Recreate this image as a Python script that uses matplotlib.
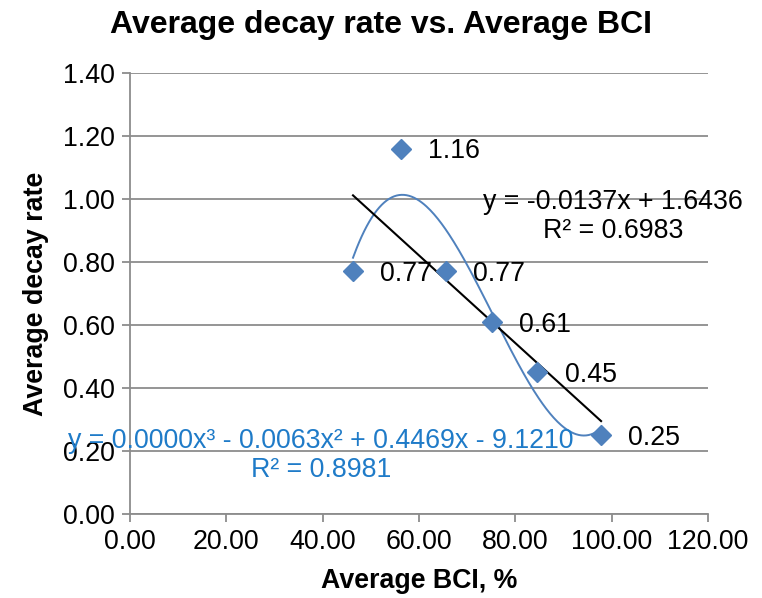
import matplotlib
matplotlib.use("Agg")
import matplotlib.pyplot as plt
import numpy as np

plt.rcParams['font.family'] = ['Liberation Sans', 'DejaVu Sans']

# average BCI (%) and average decay rate per group
bci = [46.3, 56.3, 65.6, 75.2, 84.6, 97.8]
decay = [0.77, 1.16, 0.77, 0.61, 0.45, 0.25]
point_labels = ['0.77', '1.16', '0.77', '0.61', '0.45', '0.25']

x_ticks = [0, 20, 40, 60, 80, 100, 120]
y_ticks = [0.0, 0.2, 0.4, 0.6, 0.8, 1.0, 1.2, 1.4]

linear_eq = 'y = -0.0137x + 1.6436\nR² = 0.6983'
cubic_eq = 'y = 0.0000x³ - 0.0063x² + 0.4469x - 9.1210\nR² = 0.8981'

marker_blue = '#4F81BD'
eq_blue = '#1F7BC8'
grid_grey = '#8C8C8C'
fs = 19.3

fig = plt.figure(figsize=(7.62, 5.98), dpi=100)
ax = fig.add_axes([130 / 762, 1 - 514 / 598, 578 / 762, 441 / 598])

x = np.array(bci)
y = np.array(decay)

# trendlines fitted over the data range
xs = np.linspace(x.min(), x.max(), 200)
lin = np.polyfit(x, y, 1)
cub = np.polyfit(x, y, 3)
ax.plot(xs, np.polyval(cub, xs), color=marker_blue, lw=1.4, zorder=3)
ax.plot(xs, np.polyval(lin, xs), color='black', lw=1.5, zorder=3)

ax.plot(x, y, linestyle='none', marker='D', markersize=10,
        color=marker_blue, zorder=4)

for xi, yi, lab in zip(bci, decay, point_labels):
    ax.annotate(lab, (xi, yi), xytext=(19.5, -2), textcoords='offset points',
                ha='left', va='center', fontsize=fs, zorder=5)

ax.text(100.3, 0.946, linear_eq, ha='center', va='center',
        multialignment='center', fontsize=fs, zorder=5, linespacing=1.15)
ax.text(39.6, 0.187, cubic_eq, ha='center', va='center',
        multialignment='center', fontsize=fs, color=eq_blue,
        zorder=5, linespacing=1.15, clip_on=False)

ax.set_xlim(0, 120)
ax.set_ylim(0, 1.4)
ax.set_xticks(x_ticks)
ax.set_yticks(y_ticks)
ax.set_xticklabels([f'{v:.2f}' for v in x_ticks])
ax.set_yticklabels([f'{v:.2f}' for v in y_ticks])
ax.tick_params(axis='both', labelsize=fs, direction='out', length=6,
               width=1.3, color=grid_grey, pad=5)

ax.yaxis.grid(True, color=grid_grey, lw=1.3)
ax.set_axisbelow(True)
for side in ['top', 'right']:
    ax.spines[side].set_visible(False)
for side in ['left', 'bottom']:
    ax.spines[side].set_color(grid_grey)
    ax.spines[side].set_linewidth(1.3)

ax.set_xlabel('Average BCI, %', fontsize=fs, fontweight='bold', labelpad=9)
ax.set_ylabel('Average decay rate', fontsize=fs, fontweight='bold', labelpad=10)
fig.text(381 / 762, 1 - 25 / 598, 'Average decay rate vs. Average BCI',
         ha='center', va='center', fontsize=23, fontweight='bold')

fig.savefig('out.png', dpi=100)
